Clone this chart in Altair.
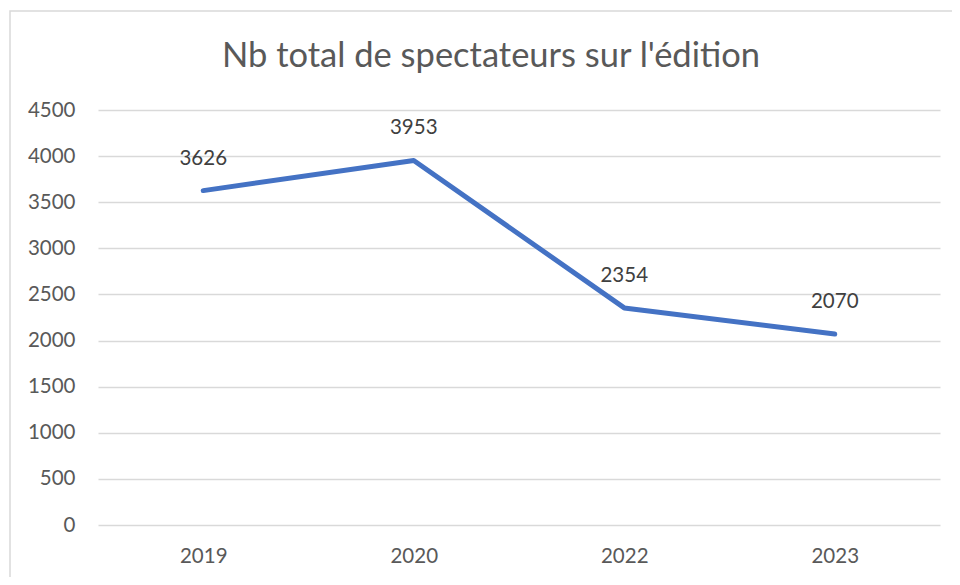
import altair as alt
import pandas as pd

years = ["2019", "2020", "2022", "2023"]
spectators = [3626, 3953, 2354, 2070]
y_ticks = [0, 500, 1000, 1500, 2000, 2500, 3000, 3500, 4000, 4500]
title_text = "Nb total de spectateurs sur l'édition"

df = pd.DataFrame({"year": years, "value": spectators})
FONT = "Lato"
LBL = 20.5

x_enc = alt.X("year:O", sort=years,
              scale=alt.Scale(type="point", padding=0.5),
              axis=alt.Axis(title=None, labelAngle=0, domain=False, ticks=False, grid=False,
                            labelFontSize=LBL, labelColor="#595959", labelFont=FONT, labelPadding=21))
y_enc = alt.Y("value:Q", scale=alt.Scale(domain=[0, 4500], nice=False),
              axis=alt.Axis(title=None, values=y_ticks, format="d", domain=False, ticks=False,
                            gridColor="#d9d9d9", gridWidth=1.5,
                            labelFontSize=LBL, labelColor="#595959", labelFont=FONT, labelPadding=23))

border = alt.Chart(pd.DataFrame({"a": [0]})).mark_rect(
    fill=None, stroke="#d9d9d9", strokeWidth=1.5
).encode(x=alt.value(-88), x2=alt.value(1000), y=alt.value(-99), y2=alt.value(700))

line = alt.Chart(df).mark_line(color="#4472C4", strokeWidth=5, strokeCap="round", strokeJoin="round").encode(
    x=x_enc, y=y_enc)

labels = alt.Chart(df).mark_text(dy=-32, fontSize=LBL, color="#404040", font=FONT).encode(
    x=alt.X("year:O", sort=years, scale=alt.Scale(type="point", padding=0.5)),
    y=alt.Y("value:Q", scale=alt.Scale(domain=[0, 4500], nice=False)),
    text=alt.Text("value:Q", format="d"))

title = alt.Chart(pd.DataFrame({"t": [title_text]})).mark_text(
    fontSize=34.5, color="#595959", font=FONT, align="center", baseline="middle"
).encode(x=alt.value(393), y=alt.value(-53), text="t:N")

chart = alt.layer(border, line, labels, title).properties(
    width=842, height=415,
    autosize=alt.AutoSizeParams(type="none"),
    padding={"left": 90, "top": 102, "right": 12, "bottom": 52},
    background="white",
).configure_view(stroke=None)

chart.save("out.html", embed_options={"renderer": "svg", "actions": False})
